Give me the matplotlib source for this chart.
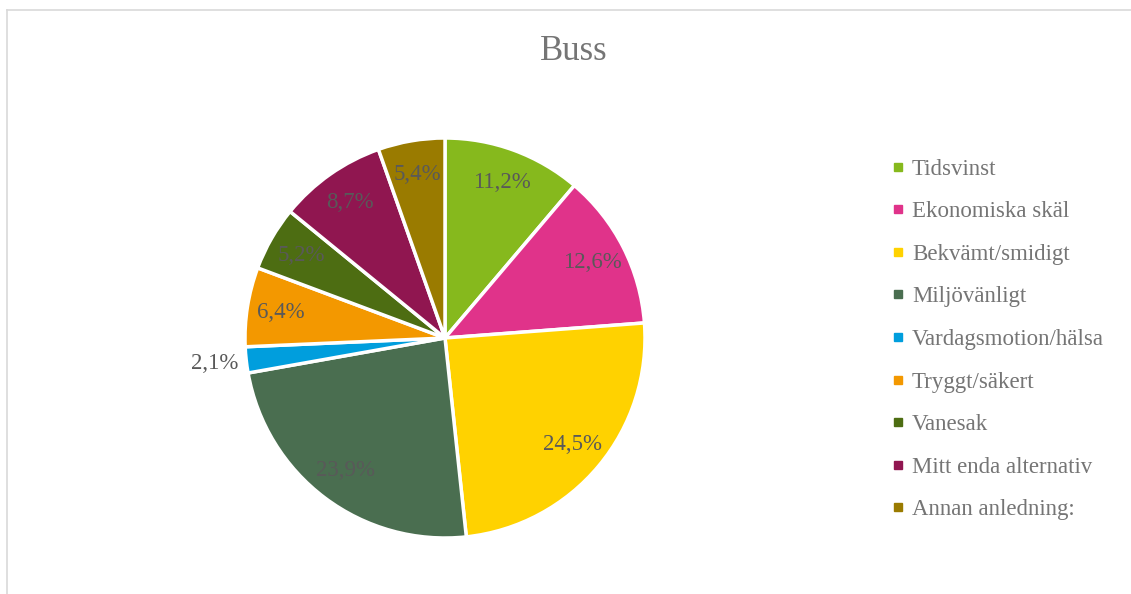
import matplotlib
matplotlib.use("Agg")
import matplotlib.pyplot as plt
from matplotlib.lines import Line2D
import numpy as np

categories = ["Tidsvinst", "Ekonomiska skäl", "Bekvämt/smidigt", "Miljövänligt",
              "Vardagsmotion/hälsa", "Tryggt/säkert", "Vanesak",
              "Mitt enda alternativ", "Annan anledning:"]
values = [11.2, 12.6, 24.5, 23.9, 2.1, 6.4, 5.2, 8.7, 5.4]
colors = ["#86B91D", "#E0338A", "#FFD200", "#4A6E50", "#009EDD",
          "#F39800", "#4D6D12", "#901650", "#9A7B00"]
title = "Buss"

plt.rcParams['font.family'] = ['Liberation Serif', 'DejaVu Serif']

W, H = 1131, 594
fig = plt.figure(figsize=(W / 100, H / 100), dpi=100)

# chart frame
fig.add_artist(Line2D([7 / W, 1.0], [1 - 10 / H, 1 - 10 / H], color="#D9D9D9", lw=1.2))
fig.add_artist(Line2D([7 / W, 7 / W], [0, 1 - 10 / H], color="#D9D9D9", lw=1.2))

cx, cy, r = 445, 338, 200
box = 1.25
ax = fig.add_axes([(cx - r * box) / W, (H - cy - r * box) / H, 2 * r * box / W, 2 * r * box / H])
wedges, texts = ax.pie(values, colors=colors, startangle=90, counterclock=False,
                       wedgeprops=dict(edgecolor="white", linewidth=2.5))
ax.set_xlim(-box, box)
ax.set_ylim(-box, box)
ax.set_aspect("equal")
ax.axis("off")

total = sum(values)
ang = 90.0
for v in values:
    mid = ang - v / total * 360 / 2
    ang -= v / total * 360
    d = 0.83 if v > 3 else 1.16
    x = d * np.cos(np.radians(mid))
    y = d * np.sin(np.radians(mid))
    ax.text(x, y, f"{v:.1f}%".replace(".", ","), ha="center", va="center",
            fontsize=16.5, color="#595959")

fig.text(574 / W, 1 - 51 / H, title, ha="center", va="center", fontsize=25, color="#757575")

handles = [Line2D([], [], marker="s", linestyle="none", markersize=6,
                  markerfacecolor=c, markeredgecolor=c) for c in colors]
leg = fig.legend(handles, categories, loc="upper left",
                 bbox_to_anchor=(872 / W, 1 - 138 / H), frameon=False,
                 fontsize=16.5, labelspacing=0.94, handlelength=0.5,
                 handletextpad=0.35, labelcolor="#757575")

fig.savefig("out.png", dpi=100)
